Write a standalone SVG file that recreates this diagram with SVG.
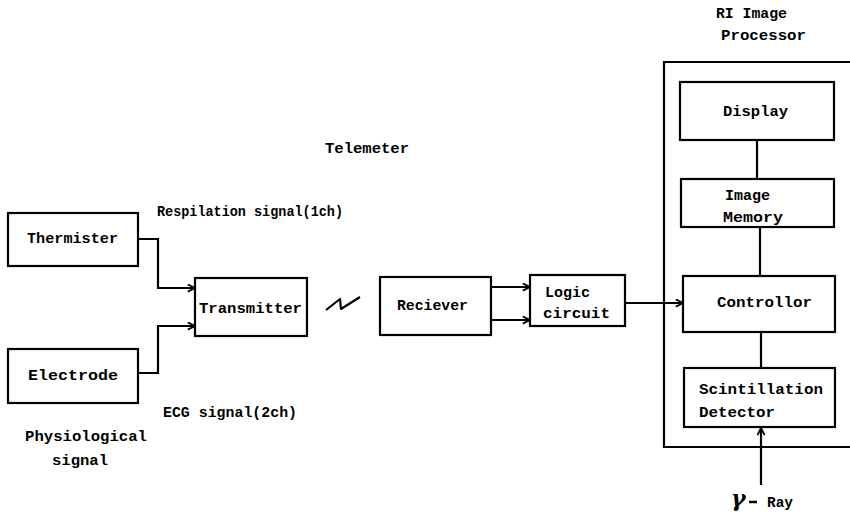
<svg xmlns="http://www.w3.org/2000/svg" width="850" height="515" viewBox="0 0 850 515">
  <style>
    .box { fill: #fff; stroke: #000; stroke-width: 2.2; }
    .frame { fill: none; stroke: #000; stroke-width: 2.2; }
    .wire { fill: none; stroke: #000; stroke-width: 2.2; }
    text { font-family: "Liberation Mono", "DejaVu Sans Mono", monospace; font-weight: bold; font-size: 15px; fill: #000; }
    text.greek { font-family: "DejaVu Serif", serif; font-size: 22px; font-style: italic; font-weight: bold; }
  </style>
  <defs>
    <marker id="arrow" viewBox="0 0 10 10" refX="9" refY="5" markerWidth="9" markerHeight="9" markerUnits="userSpaceOnUse" orient="auto">
      <polyline points="1,1 9,5 1,9" fill="none" stroke="#000" stroke-width="2"/>
    </marker>
  </defs>

  <rect width="850" height="515" fill="#fff"/>

  <!-- processor enclosure (open to the right) -->
  <g id="processor">
    <polyline class="frame" points="852,62 664,62 664,447 852,447"/>
    <text x="716" y="18" textLength="71" lengthAdjust="spacingAndGlyphs">RI Image</text>
    <text x="721" y="40" textLength="85" lengthAdjust="spacingAndGlyphs">Processor</text>
  </g>

  <g id="thermister">
    <rect class="box" x="8" y="213" width="130" height="53"/>
    <text x="27" y="243" textLength="91" lengthAdjust="spacingAndGlyphs">Thermister</text>
  </g>

  <g id="electrode">
    <rect class="box" x="8" y="349" width="130" height="54"/>
    <text x="28" y="380" textLength="90" lengthAdjust="spacingAndGlyphs">Electrode</text>
  </g>

  <g id="transmitter">
    <rect class="box" x="195" y="278" width="112" height="58"/>
    <text x="199" y="313" textLength="103" lengthAdjust="spacingAndGlyphs">Transmitter</text>
  </g>

  <g id="receiver">
    <rect class="box" x="380" y="277" width="111" height="58"/>
    <text x="397" y="310" textLength="71" lengthAdjust="spacingAndGlyphs">Reciever</text>
  </g>

  <g id="logic">
    <rect class="box" x="530" y="275" width="95" height="51"/>
    <text x="545" y="297" textLength="45" lengthAdjust="spacingAndGlyphs">Logic</text>
    <text x="543" y="318" textLength="67" lengthAdjust="spacingAndGlyphs">circuit</text>
  </g>

  <g id="display">
    <rect class="box" x="680" y="82" width="154" height="58"/>
    <text x="723" y="116" textLength="65" lengthAdjust="spacingAndGlyphs">Display</text>
  </g>

  <g id="memory">
    <rect class="box" x="681" y="179" width="153" height="48"/>
    <text x="725" y="200" textLength="45" lengthAdjust="spacingAndGlyphs">Image</text>
    <text x="723" y="222" textLength="60" lengthAdjust="spacingAndGlyphs">Memory</text>
  </g>

  <g id="controller">
    <rect class="box" x="683" y="276" width="152" height="56"/>
    <text x="717" y="307" textLength="95" lengthAdjust="spacingAndGlyphs">Controllor</text>
  </g>

  <g id="detector">
    <rect class="box" x="684" y="368" width="151" height="59"/>
    <text x="699" y="394" textLength="124" lengthAdjust="spacingAndGlyphs">Scintillation</text>
    <text x="699" y="417" textLength="76" lengthAdjust="spacingAndGlyphs">Detector</text>
  </g>

  <g id="connectors">
    <polyline class="wire" points="138,239 158,239 158,288 195,288" marker-end="url(#arrow)"/>
    <polyline class="wire" points="138,373 158,373 158,326 195,326" marker-end="url(#arrow)"/>
    <!-- radio link symbol -->
    <polyline class="wire" points="326,310 340,299 341,309 360,297" stroke-width="2.6" stroke-linejoin="round"/>
    <line class="wire" x1="491" y1="287" x2="530" y2="287" marker-end="url(#arrow)"/>
    <line class="wire" x1="491" y1="320" x2="530" y2="320" marker-end="url(#arrow)"/>
    <line class="wire" x1="625" y1="303" x2="683" y2="303" marker-end="url(#arrow)"/>
    <line class="wire" x1="757" y1="140" x2="757" y2="179"/>
    <line class="wire" x1="760" y1="227" x2="760" y2="276"/>
    <line class="wire" x1="761" y1="332" x2="761" y2="368"/>
    <line class="wire" x1="761" y1="485" x2="761" y2="428" marker-end="url(#arrow)"/>
  </g>

  <g id="labels">
    <text x="325" y="153" textLength="84" lengthAdjust="spacingAndGlyphs">Telemeter</text>
    <text x="157" y="216" textLength="186" lengthAdjust="spacingAndGlyphs">Respilation signal(1ch)</text>
    <text x="163" y="417" textLength="134" lengthAdjust="spacingAndGlyphs">ECG signal(2ch)</text>
    <text x="25" y="441" textLength="122" lengthAdjust="spacingAndGlyphs">Physiological</text>
    <text x="52" y="465" textLength="56" lengthAdjust="spacingAndGlyphs">signal</text>
    <text class="greek" x="731" y="506">γ</text>
    <line x1="749" y1="502" x2="757" y2="502" stroke="#000" stroke-width="2.5"/>
    <text x="767" y="507" textLength="26" lengthAdjust="spacingAndGlyphs">Ray</text>
  </g>
</svg>
